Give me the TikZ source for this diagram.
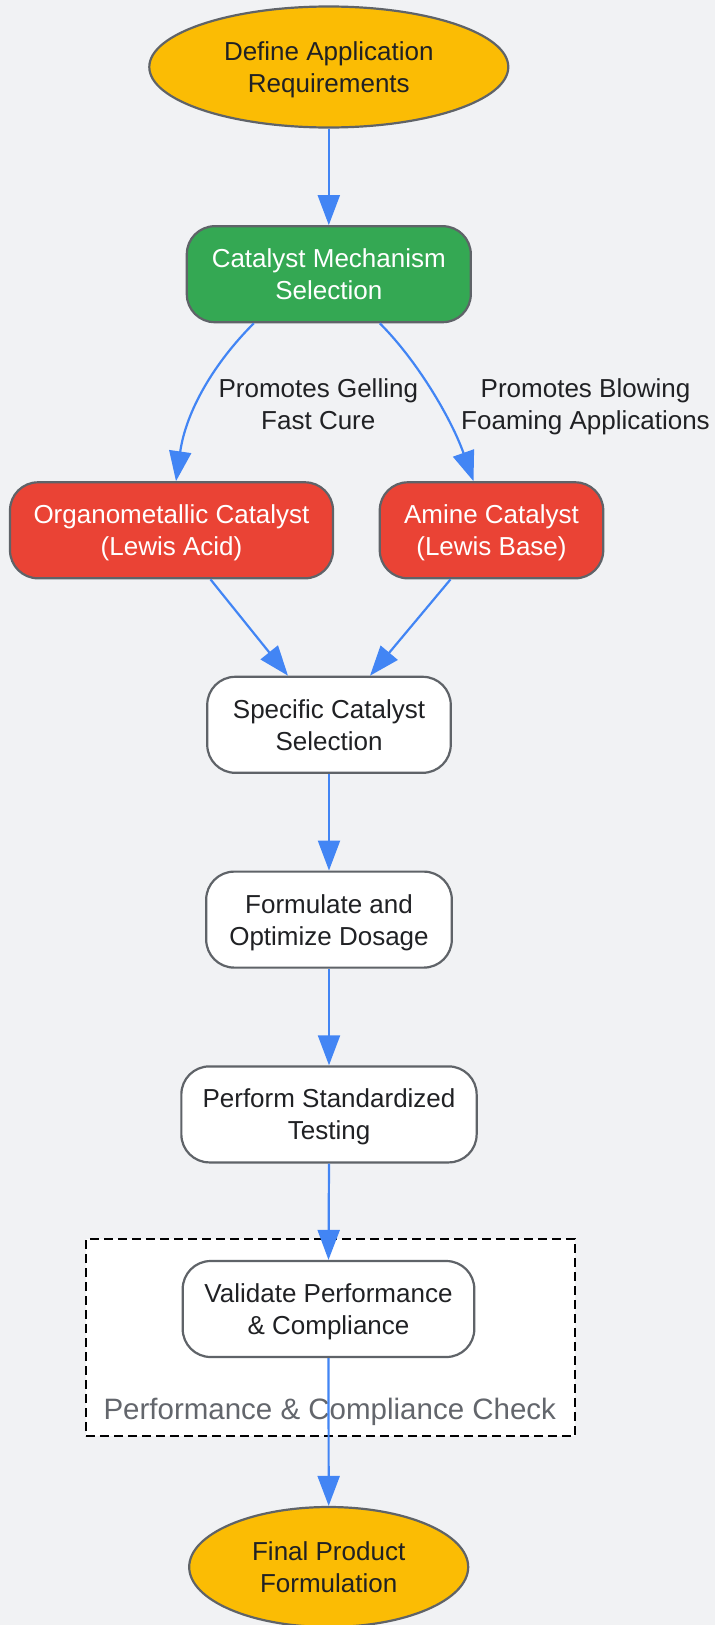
\documentclass[tikz,border=0pt]{standalone}
\usepackage{fontspec}
\setmainfont{Liberation Sans}
\usetikzlibrary{arrows.meta,shapes.geometric,calc}
\definecolor{bg}{HTML}{F1F2F4}
\definecolor{gyellow}{HTML}{FBBC04}
\definecolor{ggreen}{HTML}{34A853}
\definecolor{gred}{HTML}{EA4335}
\definecolor{gblue}{HTML}{4285F4}
\definecolor{border}{HTML}{5F6368}
\definecolor{ink}{HTML}{202124}
\definecolor{clustertxt}{HTML}{63666C}
\begin{document}
\begin{tikzpicture}[x=1pt,y=-1pt,
  base/.style={draw=border, line width=2.2pt, align=center, font=\fontsize{26}{32}\selectfont, inner sep=0pt, text depth=0pt},
  term/.style={base, ellipse, fill=gyellow, text=ink},
  box/.style={base, rectangle, rounded corners=28pt, minimum height=96pt},
  whitebox/.style={box, fill=white, text=ink},
  greenbox/.style={box, fill=ggreen, text=white},
  redbox/.style={box, fill=gred, text=white},
  flow/.style={draw=gblue, line width=2.2pt, -{Triangle[length=30pt,width=22pt]}},
  lbl/.style={font=\fontsize{26}{32}\selectfont, text=ink, align=center, inner sep=0pt, text depth=0pt}
]
\fill[bg] (0,0) rectangle (715,1625);
\useasboundingbox (0,0) rectangle (715,1625);

% cluster
\node[draw=black, fill=white, line width=2.7pt, dash pattern=on 9pt off 5pt,
      minimum width=489pt, minimum height=197pt, inner sep=0pt] (cluster) at (330.4,1337.4) {};
\node[font=\fontsize{29.5}{35}\selectfont, text=clustertxt, inner sep=0pt, text depth=0pt] (clusterlbl) at (329.8,1408.5) {Performance \& Compliance Check};

% nodes
\node[term, minimum width=359pt, minimum height=121pt] (req) at (328.8,67) {Define Application\\Requirements};
\node[greenbox, minimum width=284pt] (mech) at (328.8,274.2) {Catalyst Mechanism\\Selection};
\node[redbox, minimum width=323pt] (org) at (171.5,530.3) {Organometallic Catalyst\\(Lewis Acid)};
\node[redbox, minimum width=223.5pt] (amine) at (491.5,530.3) {Amine Catalyst\\(Lewis Base)};
\node[whitebox, minimum width=243.5pt] (spec) at (329,724.8) {Specific Catalyst\\Selection};
\node[whitebox, minimum width=245.6pt] (form) at (329,919.6) {Formulate and\\Optimize Dosage};
\node[whitebox, minimum width=295.3pt] (test) at (329,1114.4) {Perform Standardized\\Testing};
\node[whitebox, minimum width=291.6pt] (valid) at (328.5,1309) {Validate Performance\\\& Compliance};
\node[term, minimum width=279pt, minimum height=120pt] (final) at (328.7,1567) {Final Product\\Formulation};

% edge labels
\node[lbl] (lblgel) at (318.3,404) {Promotes Gelling\\Fast Cure};
\node[lbl] (lblblow) at (585.5,404) {Promotes Blowing\\Foaming Applications};

% connectors
\draw[flow] (req.south) -- (mech.north);
\draw[flow] ([xshift=-75pt]mech.south) .. controls +(-40,40) and +(10,-70) .. ([xshift=4.5pt]org.north);
\draw[flow] ([xshift=51pt]mech.south) .. controls +(38,38) and +(-22,-62) .. ([xshift=-18pt]amine.north);
\draw[flow] ([xshift=39pt]org.south) -- ([xshift=-41pt]spec.north);
\draw[flow] ([xshift=-41pt]amine.south) -- ([xshift=41pt]spec.north);
\draw[flow] (spec.south) -- (form.north);
\draw[flow] (form.south) -- (test.north);
\draw[flow] (test.south) -- (valid.north);
\draw[flow] (valid.south) -- (final.north);
\end{tikzpicture}
\end{document}
